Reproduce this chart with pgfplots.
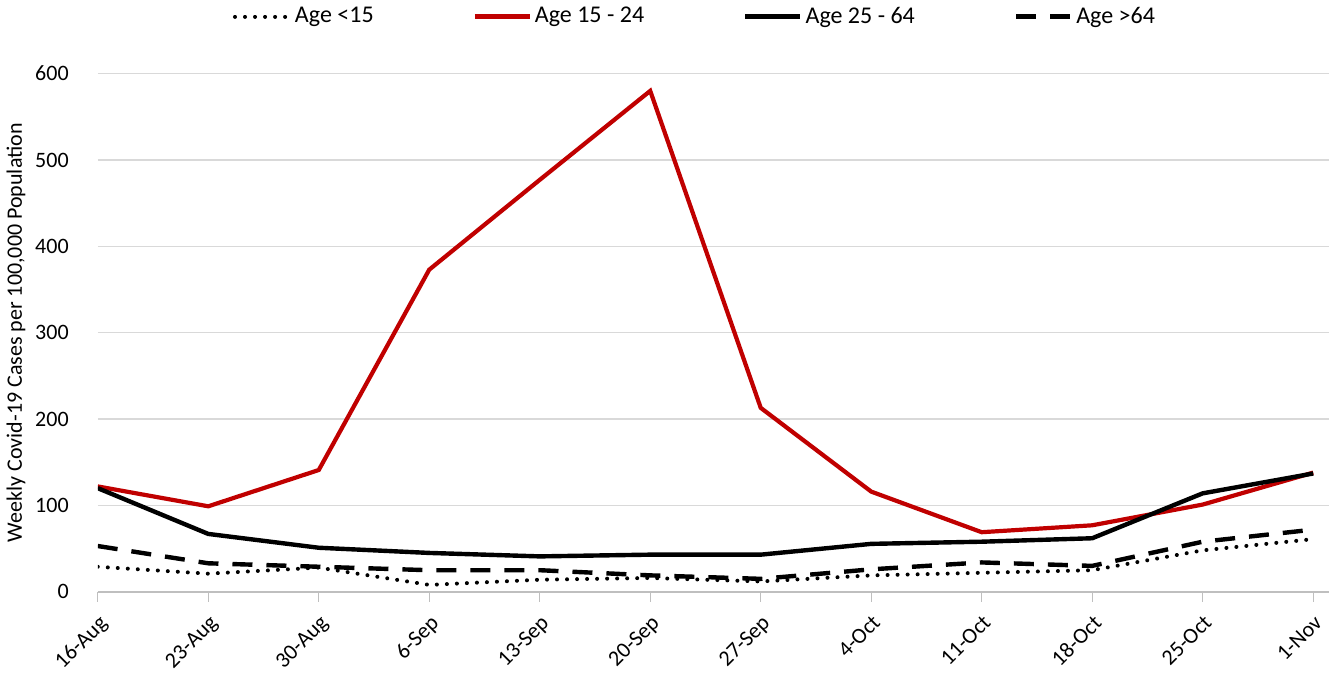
\documentclass[border=0pt]{standalone}
\usepackage{pgfplots}
\pgfplotsset{compat=1.18}
\usepackage{fontspec}
\setmainfont{Carlito}
\definecolor{redline}{HTML}{C00000}
\definecolor{gridc}{HTML}{D9D9D9}
\definecolor{axc}{HTML}{BFBFBF}
\begin{document}
\begin{tikzpicture}
\begin{axis}[
  scale only axis,
  width=615.5pt, height=259pt,
  xmin=0, xmax=11.145,
  ymin=0, ymax=600,
  ytick={0,100,...,600},
  xtick={0,...,11},
  xticklabels={16-Aug,23-Aug,30-Aug,6-Sep,13-Sep,20-Sep,27-Sep,4-Oct,11-Oct,18-Oct,25-Oct,1-Nov},
  xticklabel style={rotate=45, anchor=north east, font=\fontsize{11}{13}\selectfont, inner sep=2pt},
  xticklabel shift=3pt,
  yticklabel style={font=\fontsize{11}{13}\selectfont, xshift=-6pt},
  /pgf/number format/assume math mode=true,
  ymajorgrids, grid style={gridc, line width=0.6pt},
  axis x line*=bottom, axis y line*=left,
  x axis line style={axc, line width=0.8pt, -},
  y axis line style={draw=none},
  major tick length=5pt,
  xtick style={axc, line width=0.6pt},
  ytick style={draw=none},
  tick align=outside,
  ylabel={Weekly Covid-19 Cases per 100,000 Population},
  ylabel style={font=\fontsize{11}{13}\selectfont, yshift=-2pt},
  legend columns=4,
  legend style={draw=none, at={(0.5,1.0)}, anchor=south, yshift=20pt, xshift=-9pt, font=\fontsize{12}{14}\selectfont,
    nodes={inner sep=1.5pt},
    /tikz/every even column/.append style={column sep=48pt}},
  legend image code/.code={\draw[#1] (0pt,0pt) -- (27.5pt,0pt);},
]
\addplot[black, line width=2pt, line cap=round, dash pattern=on 0.01pt off 5pt] coordinates {
(0,29)(1,21)(2,28)(3,8)(4,14)(5,16)(6,12)(7,19)(8,22)(9,25)(10,48)(11,61)};
\addlegendentry{Age <15}
\addplot[redline, line width=2.1pt] coordinates {
(0,122)(1,99)(2,141)(3,373)(4,477)(5,580)(6,213)(7,116)(8,69)(9,77)(10,101)(11,138)};
\addlegendentry{Age 15 - 24}
\addplot[black, line width=2.2pt] coordinates {
(0,120)(1,67)(2,51)(3,45)(4,41)(5,43)(6,43)(7,55.5)(8,58)(9,62)(10,114)(11,137)};
\addlegendentry{Age 25 - 64}
\addplot[black, line width=2.2pt, dash pattern=on 10pt off 7pt] coordinates {
(0,53)(1,33)(2,29)(3,25)(4,25)(5,19)(6,15)(7,26)(8,34)(9,30)(10,58)(11,72)};
\addlegendentry{Age >64}
\end{axis}
\end{tikzpicture}
\end{document}
